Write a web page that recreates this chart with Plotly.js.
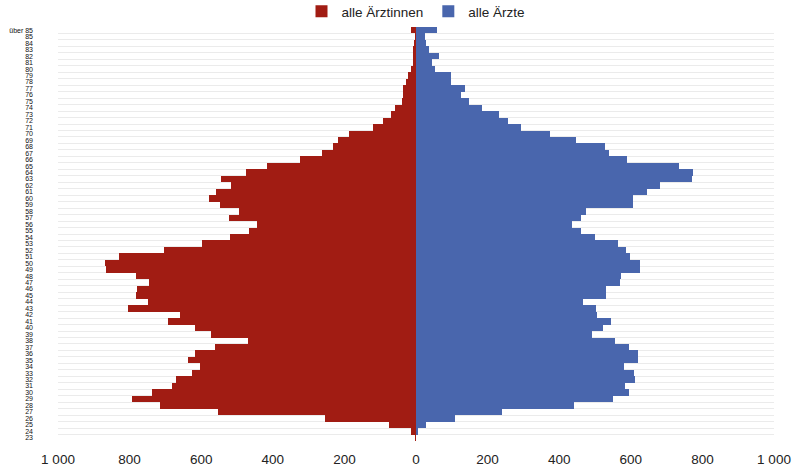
<!DOCTYPE html>
<html>
<head>
<meta charset="utf-8">
<script src="https://cdn.plot.ly/plotly-3.0.1.min.js"></script>
<style>
  html, body { margin: 0; padding: 0; background: #fff; }
  #chart { width: 795px; height: 475px; }
</style>
</head>
<body>
<div id="chart"></div>
<script>
// age groups, bottom to top
const ages = ["23","24","25","26","27","28","29","30","31","32","33","34","35","36","37","38","39","40",
  "41","42","43","44","45","46","47","48","49","50","51","52","53","54","55","56","57","58","59","60",
  "61","62","63","64","65","66","67","68","69","70","71","72","73","74","75","76","77","78","79","80",
  "81","82","83","84","85","über 85"];

// alle Ärztinnen (drawn to the left)
const women = [3, 15, 76, 255, 553, 715, 794, 737, 681, 671, 625, 603, 636, 618, 561, 468, 572, 618,
  693, 659, 805, 750, 781, 780, 746, 783, 865, 869, 830, 704, 599, 519, 466, 444, 523, 494, 548, 578,
  560, 516, 544, 474, 415, 324, 263, 231, 218, 186, 121, 93, 69, 60, 40, 36, 35, 28, 23, 14,
  7, 9, 7, 5, 3, 14];

// alle Ärzte (drawn to the right)
const men = [1, 6, 27, 108, 241, 442, 550, 596, 584, 613, 609, 581, 621, 621, 596, 557, 491, 522,
  544, 505, 502, 466, 530, 530, 570, 572, 626, 626, 598, 587, 563, 501, 460, 437, 460, 475, 606, 606,
  645, 682, 771, 774, 734, 590, 539, 528, 447, 375, 293, 257, 232, 184, 148, 126, 137, 99, 99, 53,
  44, 64, 35, 28, 26, 59];

const xTicks = [-1000, -800, -600, -400, -200, 0, 200, 400, 600, 800, 1000];
const xTickText = ["1 000", "800", "600", "400", "200", "0", "200", "400", "600", "800", "1 000"];

const font = "Liberation Sans, Arial, sans-serif";

const traces = [
  {
    type: 'bar',
    orientation: 'h',
    name: 'alle Ärztinnen',
    y: ages,
    x: women.map(v => -v),
    marker: { color: '#A11C13', line: { width: 0 } },
    hoverinfo: 'skip'
  },
  {
    type: 'bar',
    orientation: 'h',
    name: 'alle Ärzte',
    y: ages,
    x: men,
    marker: { color: '#4966AD', line: { width: 0 } },
    hoverinfo: 'skip'
  }
];

const layout = {
  width: 795,
  height: 475,
  margin: { l: 58, r: 21, t: 27, b: 34, autoexpand: false },
  paper_bgcolor: '#fff',
  plot_bgcolor: '#fff',
  barmode: 'relative',
  bargap: 0,
  font: { family: font, color: '#222' },
  showlegend: true,
  legend: {
    orientation: 'h',
    x: 0.5, xanchor: 'center',
    y: 1.0, yanchor: 'bottom',
    font: { size: 13.5, color: '#222' },
    traceorder: 'normal',
    itemwidth: 30
  },
  xaxis: {
    range: [-1000, 1000],
    tickvals: xTicks,
    ticktext: xTickText,
    showgrid: false,
    zeroline: false,
    showline: false,
    ticks: '',
    ticklabelstandoff: 8,
    tickfont: { size: 13.5, color: '#222' },
    fixedrange: true
  },
  yaxis: {
    type: 'category',
    categoryorder: 'array',
    categoryarray: ages,
    tickmode: 'array',
    tickvals: ages,
    ticktext: ages,
    tickson: 'boundaries',
    showgrid: true,
    gridcolor: '#EBEBEB',
    gridwidth: 1,
    ticks: '',
    showline: false,
    zeroline: false,
    tickfont: { size: 7, color: '#111' },
    ticklabelstandoff: 24,
    fixedrange: true
  }
};

Plotly.newPlot('chart', traces, layout, { displayModeBar: false, staticPlot: true });
</script>
</body>
</html>
